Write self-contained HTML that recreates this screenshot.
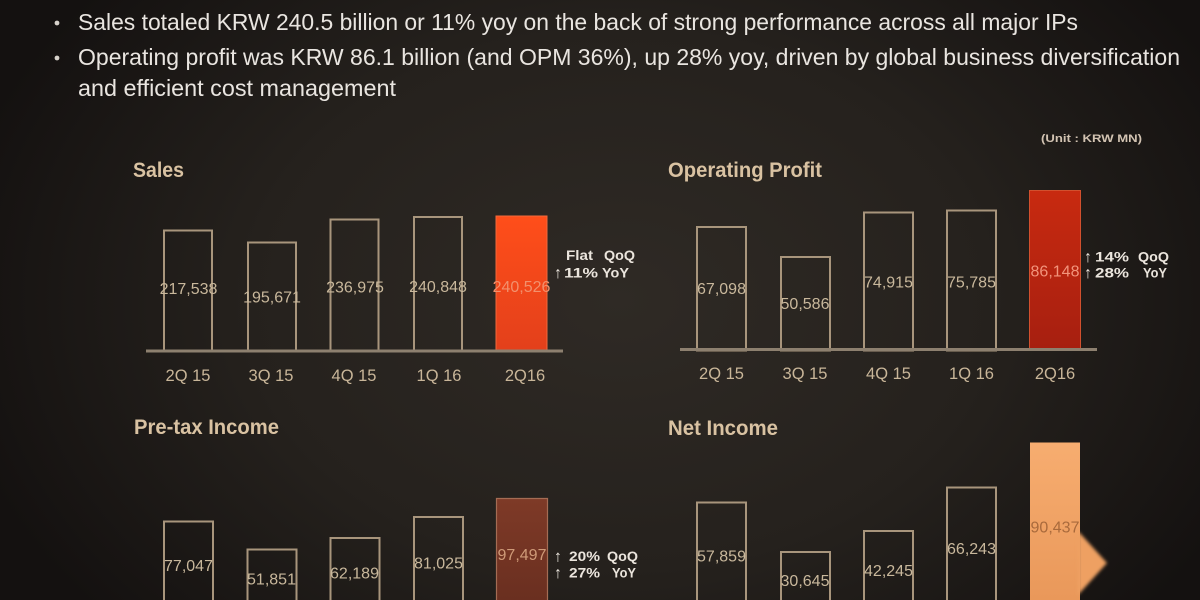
<!DOCTYPE html>
<html><head><meta charset="utf-8"><style>
html,body{margin:0;padding:0;background:#1a1714;width:1200px;height:600px;overflow:hidden;}
svg{display:block;}
text{font-family:"Liberation Sans",sans-serif;}
</style></head><body>
<svg width="1200" height="600" viewBox="0 0 1200 600" xmlns="http://www.w3.org/2000/svg">
<defs>
<radialGradient id="bg" gradientUnits="userSpaceOnUse" cx="620" cy="300" r="680" gradientTransform="translate(620 300) scale(1 0.72) translate(-620 -300)">
<stop offset="0" stop-color="#2f2a25"/>
<stop offset="0.55" stop-color="#25211d"/>
<stop offset="1" stop-color="#141110"/>
</radialGradient>
<linearGradient id="gS" x1="0" y1="0" x2="0" y2="1"><stop offset="0" stop-color="#ff4e1a"/><stop offset="1" stop-color="#e3401b"/></linearGradient>
<linearGradient id="gO" x1="0" y1="0" x2="0" y2="1"><stop offset="0" stop-color="#c82a10"/><stop offset="1" stop-color="#a61f10"/></linearGradient>
<linearGradient id="gP" x1="0" y1="0" x2="0" y2="1"><stop offset="0" stop-color="#7e3a27"/><stop offset="1" stop-color="#6a2f20"/></linearGradient>
<linearGradient id="gN" x1="0" y1="0" x2="0" y2="1"><stop offset="0" stop-color="#f7ad70"/><stop offset="1" stop-color="#e9985a"/></linearGradient>
<filter id="bl" x="-20%" y="-20%" width="140%" height="140%"><feGaussianBlur stdDeviation="1.6"/></filter>
</defs>
<rect x="0" y="0" width="1200" height="600" fill="url(#bg)"/>

<!-- bullets -->
<circle cx="57" cy="23" r="2.4" fill="#d6d1ca"/>
<circle cx="57" cy="58" r="2.4" fill="#d6d1ca"/>
<g fill="#e9e5e0" font-size="23">
<text x="78" y="30" textLength="1000" lengthAdjust="spacingAndGlyphs">Sales totaled KRW 240.5 billion or 11% yoy on the back of strong performance across all major IPs</text>
<text x="78" y="65" textLength="1102" lengthAdjust="spacingAndGlyphs">Operating profit was KRW 86.1 billion (and OPM 36%), up 28% yoy, driven by global business diversification</text>
<text x="78" y="96" textLength="318" lengthAdjust="spacingAndGlyphs">and efficient cost management</text>
</g>

<!-- unit -->
<text x="1041" y="142" font-size="11" font-weight="bold" fill="#d2c3b2" textLength="101" lengthAdjust="spacingAndGlyphs">(Unit : KRW MN)</text>

<!-- titles -->
<g fill="#d9c2a2" font-size="21" font-weight="bold">
<text x="133" y="177" textLength="51" lengthAdjust="spacingAndGlyphs">Sales</text>
<text x="668" y="177" textLength="154" lengthAdjust="spacingAndGlyphs">Operating Profit</text>
<text x="134" y="434" textLength="145" lengthAdjust="spacingAndGlyphs">Pre-tax Income</text>
<text x="668" y="435" textLength="110" lengthAdjust="spacingAndGlyphs">Net Income</text>
</g>

<!-- SALES -->
<g fill="none" stroke="#a8957c" stroke-width="2">
<rect x="164" y="230.5" width="48" height="121"/>
<rect x="248" y="242.5" width="48" height="109"/>
<rect x="330.5" y="219.5" width="48" height="132"/>
<rect x="414" y="217" width="48" height="134.5"/>
</g>
<rect x="496" y="216" width="51" height="135" fill="url(#gS)" stroke="#f0693c" stroke-width="1"/>
<rect x="146" y="349.5" width="417" height="3" fill="#8d806f"/>
<g fill="#c9b89c" font-size="16" text-anchor="middle">
<text x="188.5" y="294">217,538</text>
<text x="272" y="302.5">195,671</text>
<text x="355" y="292.5">236,975</text>
<text x="438" y="292">240,848</text>
<text x="521.5" y="292" fill="#f2906c">240,526</text>
</g>
<g fill="#c9b699" font-size="16.5" text-anchor="middle">
<text x="188" y="381">2Q 15</text>
<text x="271" y="381">3Q 15</text>
<text x="354" y="381">4Q 15</text>
<text x="439" y="381">1Q 16</text>
<text x="525" y="381">2Q16</text>
</g>
<g fill="#ebe5dd" font-size="14" font-weight="bold">
<text x="566" y="260" textLength="27" lengthAdjust="spacingAndGlyphs">Flat</text>
<text x="604" y="260" textLength="31" lengthAdjust="spacingAndGlyphs">QoQ</text>
<text x="554" y="278" font-size="16">↑</text>
<text x="564" y="277.5" textLength="34" lengthAdjust="spacingAndGlyphs">11%</text>
<text x="602" y="277.5" textLength="27" lengthAdjust="spacingAndGlyphs">YoY</text>
</g>

<!-- OPERATING PROFIT -->
<g fill="none" stroke="#a8957c" stroke-width="2">
<rect x="697" y="227" width="49" height="123.5"/>
<rect x="781" y="257" width="49" height="93.5"/>
<rect x="864" y="212.5" width="49" height="138"/>
<rect x="947" y="210.5" width="49" height="140"/>
</g>
<rect x="1029.5" y="190.5" width="51" height="160" fill="url(#gO)" stroke="#d2502e" stroke-width="1"/>
<rect x="680" y="348" width="417" height="3" fill="#8d806f"/>
<g fill="#c9b89c" font-size="16" text-anchor="middle">
<text x="721.5" y="294">67,098</text>
<text x="805" y="309">50,586</text>
<text x="888.5" y="287.5">74,915</text>
<text x="971.5" y="287.5">75,785</text>
<text x="1055" y="276.5" fill="#f2947c">86,148</text>
</g>
<g fill="#c9b699" font-size="16.5" text-anchor="middle">
<text x="721.5" y="379">2Q 15</text>
<text x="805" y="379">3Q 15</text>
<text x="888.5" y="379">4Q 15</text>
<text x="971.5" y="379">1Q 16</text>
<text x="1055" y="379">2Q16</text>
</g>
<g fill="#ebe5dd" font-size="14" font-weight="bold">
<text x="1084" y="262" font-size="16">↑</text>
<text x="1095" y="261.5" textLength="34" lengthAdjust="spacingAndGlyphs">14%</text>
<text x="1138" y="261.5" textLength="31" lengthAdjust="spacingAndGlyphs">QoQ</text>
<text x="1084" y="278" font-size="16">↑</text>
<text x="1095" y="277.5" textLength="34" lengthAdjust="spacingAndGlyphs">28%</text>
<text x="1143" y="277.5" textLength="24" lengthAdjust="spacingAndGlyphs">YoY</text>
</g>

<!-- PRE-TAX (open-bottom outlines ending at frame edge) -->
<g fill="none" stroke="#a8957c" stroke-width="2">
<path d="M164 600 V521.5 H213 V600"/>
<path d="M247.5 600 V549.5 H296.5 V600"/>
<path d="M330.5 600 V538 H379.5 V600"/>
<path d="M414 600 V517 H463 V600"/>
</g>
<rect x="496.5" y="498.5" width="51" height="101.5" fill="url(#gP)"/>
<path d="M496.5 600 V498.5 H547.5 V600" fill="none" stroke="#a46c54" stroke-width="1.2"/>
<g fill="#c9b89c" font-size="16" text-anchor="middle">
<text x="188.5" y="571">77,047</text>
<text x="271.5" y="584.5">51,851</text>
<text x="354.5" y="578.5">62,189</text>
<text x="438.5" y="568.5">81,025</text>
<text x="522" y="560" fill="#cf9a78">97,497</text>
</g>
<g fill="#ebe5dd" font-size="14" font-weight="bold">
<text x="554" y="561.5" font-size="16">↑</text>
<text x="569" y="561" textLength="31" lengthAdjust="spacingAndGlyphs">20%</text>
<text x="607" y="561" textLength="31" lengthAdjust="spacingAndGlyphs">QoQ</text>
<text x="554" y="578" font-size="16">↑</text>
<text x="569" y="577.5" textLength="31" lengthAdjust="spacingAndGlyphs">27%</text>
<text x="612" y="577.5" textLength="24" lengthAdjust="spacingAndGlyphs">YoY</text>
</g>

<!-- NET INCOME -->
<g fill="none" stroke="#a8957c" stroke-width="2">
<path d="M697 600 V502.5 H746 V600"/>
<path d="M781 600 V552 H830 V600"/>
<path d="M864 600 V531 H913 V600"/>
<path d="M947 600 V487.5 H996 V600"/>
</g>
<rect x="1030" y="442.5" width="50" height="157.5" fill="url(#gN)"/>
<polygon points="1078,531 1107,563 1078,595" fill="#eea062" filter="url(#bl)"/>
<g fill="#c9b89c" font-size="16" text-anchor="middle">
<text x="721.5" y="561.5">57,859</text>
<text x="805" y="586">30,645</text>
<text x="888.5" y="576">42,245</text>
<text x="971.5" y="554">66,243</text>
<text x="1055" y="532.5" fill="#a96a3c">90,437</text>
</g>
</svg>
</body></html>
